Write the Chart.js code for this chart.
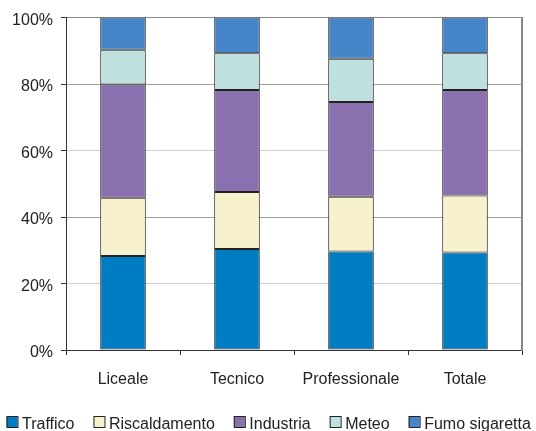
<!DOCTYPE html>
<html>
<head>
<meta charset="utf-8">
<script src="https://cdn.jsdelivr.net/npm/chart.js@4"></script>
<style>
html,body{margin:0;padding:0;background:#fff;}
#wrap{width:536px;height:431px;position:relative;overflow:hidden;}
</style>
</head>
<body>
<div id="wrap"><canvas id="c" width="536" height="431"></canvas></div>
<script>
const categories = ['Liceale', 'Tecnico', 'Professionale', 'Totale'];
const seriesNames = ['Traffico', 'Riscaldamento', 'Industria', 'Meteo', 'Fumo sigaretta'];
const traffico      = [28.3, 30.4, 29.6, 29.3];
const riscaldamento = [17.5, 17.1, 16.5, 17.2];
const industria     = [34.1, 30.7, 28.5, 31.7];
const meteo         = [10.4, 11.1, 13.0, 11.1];
const fumo          = [9.7, 10.7, 12.4, 10.7];
const yTicks = [0, 20, 40, 60, 80, 100];

const colors = ['#007CC3', '#F8F1CE', '#8B70B0', '#C0E0DF', '#4686C8'];
const seriesValues = [traffico, riscaldamento, industria, meteo, fumo];

const FONT = 'Liberation Sans, Arial, sans-serif';

const legendPlugin = {
  id: 'customLegend',
  afterDraw(chart) {
    const ctx = chart.ctx;
    ctx.save();
    ctx.font = '16px ' + FONT;
    ctx.textBaseline = 'alphabetic';
    ctx.textAlign = 'left';
    let x = 6.5;
    chart.data.datasets.forEach(ds => {
      ctx.fillStyle = ds.backgroundColor;
      ctx.fillRect(x, 416, 11, 11);
      ctx.strokeStyle = '#222';
      ctx.lineWidth = 1;
      ctx.strokeRect(x + 0.5, 416.5, 11, 11);
      ctx.fillStyle = '#222';
      const tx = x + 15.5;
      ctx.fillText(ds.label, tx, 429);
      x = tx + ctx.measureText(ds.label).width + 19;
    });
    ctx.restore();
  }
};

const datasets = seriesNames.map((name, i) => ({
  label: name,
  data: seriesValues[i],
  backgroundColor: colors[i],
  borderColor: '#222',
  borderWidth: 1,
  borderSkipped: false,
  barPercentage: 0.4,
  categoryPercentage: 1.0
}));

new Chart(document.getElementById('c'), {
  type: 'bar',
  data: { labels: categories, datasets },
  plugins: [legendPlugin],
  options: {
    responsive: false,
    animation: false,
    layout: { padding: { top: 16, right: 14, left: 0, bottom: 41 } },
    plugins: { legend: { display: false }, tooltip: { enabled: false } },
    scales: {
      x: {
        stacked: true,
        offset: true,
        grid: { offset: true, drawOnChartArea: false, drawTicks: true, tickLength: 5, tickColor: '#333' },
        border: { color: '#333', width: 1 },
        ticks: { color: '#222', font: { family: FONT, size: 16 }, padding: 15, maxRotation: 0 },
        afterFit(s) { s.height = 40; }
      },
      y: {
        stacked: true,
        min: 0, max: 100,
        afterBuildTicks(s) { s.ticks = yTicks.map(v => ({ value: v })); },
        grid: {
          color: c => {
            const v = c.tick && c.tick.value;
            if (v === 100) return '#888';
            if (v === 0) return '#333';
            if (v === 20 || v === 60) return '#cfcfcf';
            return '#a0a0a0';
          },
          tickLength: 5, tickColor: '#333'
        },
        border: { color: '#333', width: 1 },
        ticks: {
          color: '#222', font: { family: FONT, size: 16 }, padding: 8, labelOffset: 3,
          callback: v => v + '%'
        },
        afterFit(s) { s.width = 66; }
      },
      y2: {
        position: 'right',
        min: 0, max: 100,
        grid: { drawOnChartArea: false, drawTicks: false },
        border: { color: '#888', width: 2 },
        ticks: { display: false },
        afterFit(s) { s.width = 0; }
      }
    }
  }
});
</script>
</body>
</html>
